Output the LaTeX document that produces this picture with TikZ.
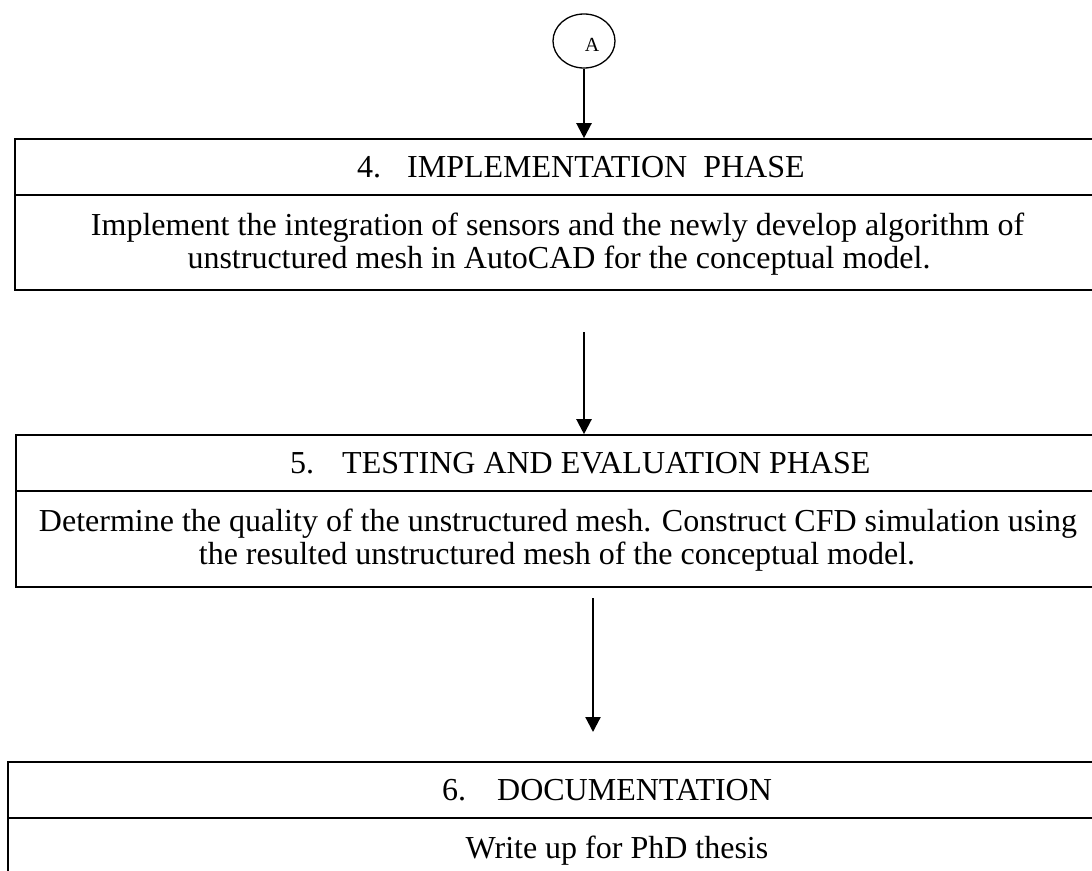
\documentclass[tikz,border=0pt]{standalone}
\usepackage{fontspec}
\setmainfont{Liberation Serif}
\usetikzlibrary{shapes.geometric,arrows.meta}
\tikzset{
  boxpart/.style={draw, line width=1.6pt, rectangle, inner sep=0pt},
  arr/.style={line width=2.2pt, -{Triangle[width=15pt,length=15pt]}},
  txt/.style={inner sep=0pt, font=\fontsize{32}{33}\selectfont},
  hd/.style={txt, anchor=base west},
  bd/.style={txt, anchor=base},
}
\begin{document}
\begin{tikzpicture}[x=1pt,y=-1pt]
\useasboundingbox (0,0) rectangle (1092,870);
\clip (0,0) rectangle (1092,870);
\fill[white] (0,0) rectangle (1092,870);

% connector circle
\node[draw, ellipse, line width=1.3pt, minimum width=62pt, minimum height=54pt, inner sep=0pt,
      font=\fontsize{20}{20}\selectfont] (A) at (584,41) {\hspace{16pt}\raisebox{-10.5pt}[0pt][0pt]{A}};

% box 1
\node[boxpart, minimum width=1086pt, minimum height=56pt] (b1h) at (558,167) {};
\node[boxpart, minimum width=1086pt, minimum height=95pt] (b1b) at (558,242.5) {};
\node[hd] (t1h) at (357,177) {4.\hspace{26pt}IMPLEMENTATION\ \ PHASE};
\node[bd] (t1a) at (557.5,235) {Implement the integration of sensors and the newly develop algorithm of};
\node[bd] (t1b) at (559,268) {unstructured mesh in AutoCAD for the conceptual model.};

% box 2
\node[boxpart, minimum width=1084pt, minimum height=56pt] (b2h) at (558,463) {};
\node[boxpart, minimum width=1084pt, minimum height=96pt] (b2b) at (558,539) {};
\node[hd] (t2h) at (290,473) {5.\hspace{28pt}TESTING AND EVALUATION PHASE};
\node[bd] (t2a) at (558,531) {Determine the quality of the unstructured mesh. Construct CFD simulation using};
\node[bd] (t2b) at (557,564) {the resulted unstructured mesh of the conceptual model.};

% box 3
\node[boxpart, minimum width=1218pt, minimum height=56pt] (b3h) at (617,790) {};
\node[boxpart, minimum width=1218pt, minimum height=102pt] (b3b) at (617,869) {};
\node[hd] (t3h) at (442,800) {6.\hspace{31pt}DOCUMENTATION};
\node[bd] (t3a) at (617,858) {Write up for PhD thesis};

% connectors
\coordinate (a2s) at (584,332);
\coordinate (a3s) at (593,598);
\coordinate (a3e) at (593,732);
\draw[arr] (A.south) -- (A.south |- b1h.north);
\draw[arr] (a2s) -- (a2s |- b2h.north);
\draw[arr] (a3s) -- (a3e);
\end{tikzpicture}
\end{document}
